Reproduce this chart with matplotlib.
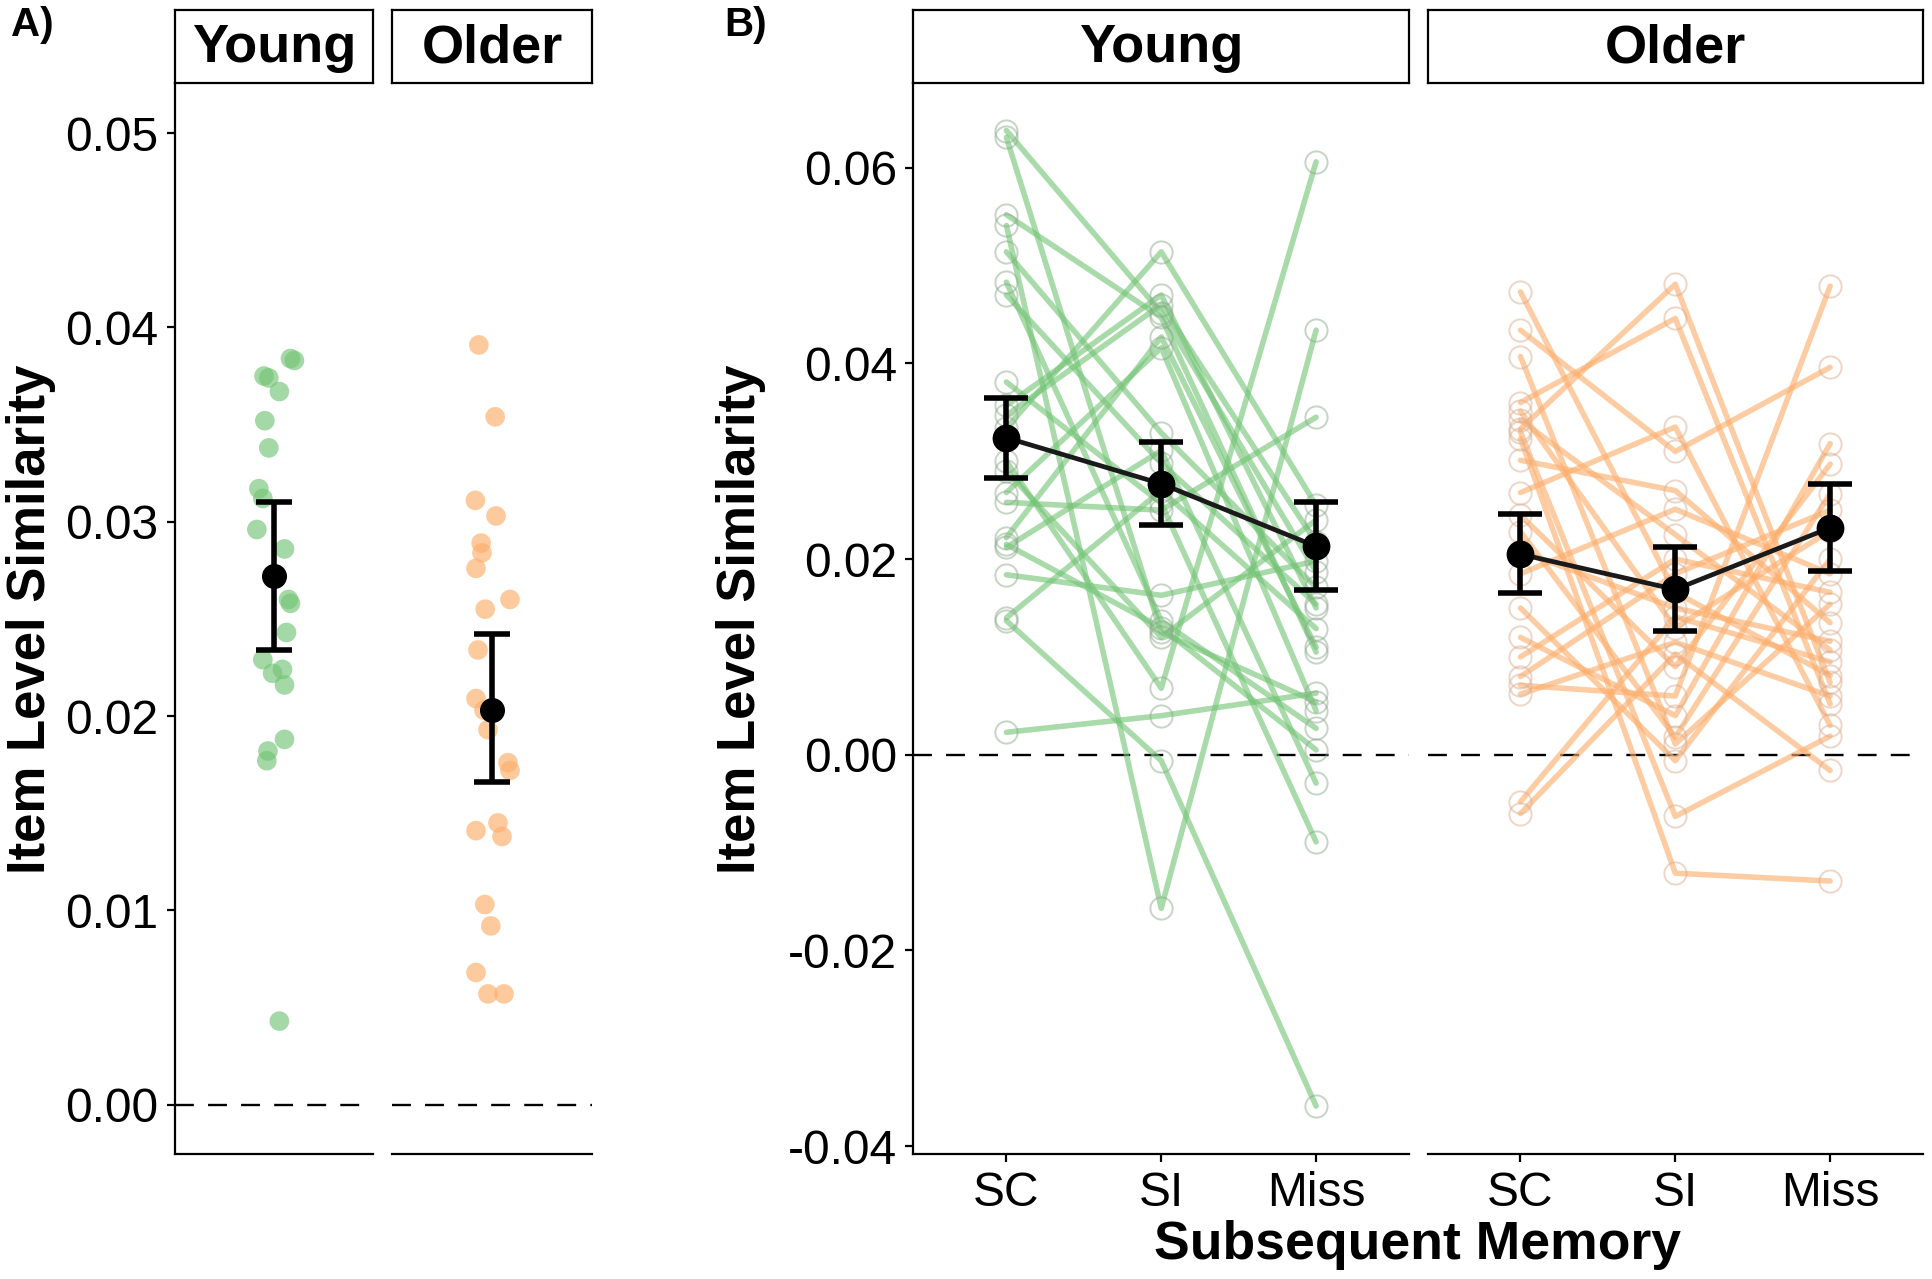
import numpy as np
import matplotlib
matplotlib.use("Agg")
import matplotlib.pyplot as plt
from matplotlib import font_manager

plt.rcParams['font.family'] = ['Liberation Sans', 'DejaVu Sans']

# ------------------------------------------------------------------------------
# Data
# ------------------------------------------------------------------------------
groups = ["Young", "Older"]
memory_labels = ["SC", "SI", "Miss"]

# Panel A: per-subject item level similarity (+ horizontal jitter)
young_A = [0.0384, 0.0383, 0.0375, 0.0374, 0.0367, 0.0352, 0.0338, 0.0317,
           0.0312, 0.0296, 0.0286, 0.0260, 0.0258, 0.0243, 0.0229, 0.0222,
           0.0224, 0.0216, 0.0188, 0.0182, 0.0177, 0.0043]
young_A_jit = [0.098, 0.122, -0.062, -0.033, 0.031, -0.057, -0.033, -0.093,
               -0.069, -0.105, 0.062, 0.086, 0.098, 0.074, -0.069, -0.010,
               0.050, 0.062, 0.062, -0.038, -0.045, 0.031]
older_A = [0.0391, 0.0354, 0.0311, 0.0303, 0.0289, 0.0284, 0.0276, 0.0260,
           0.0255, 0.0234, 0.0209, 0.0203, 0.0193, 0.0176, 0.0172, 0.0141,
           0.0145, 0.0138, 0.0103, 0.0092, 0.0068, 0.0057, 0.0057]
older_A_jit = [-0.079, 0.019, -0.100, 0.024, -0.065, -0.060, -0.096, 0.108,
               -0.041, -0.084, -0.096, -0.048, -0.024, 0.096, 0.108, -0.096,
               0.036, 0.060, -0.043, -0.007, -0.096, -0.024, 0.072]

# summary (mean, lower, upper) for panel A
mean_A = [0.0272, 0.0203]
low_A = [0.0234, 0.0166]
high_A = [0.0310, 0.0242]

# Panel B: per-subject values for SC, SI, Miss
young_sc = [0.0638, 0.0631, 0.0552, 0.0541, 0.0514, 0.0483, 0.0470, 0.0381,
            0.0357, 0.0347, 0.0334, 0.0300, 0.0268, 0.0258, 0.0222, 0.0212,
            0.0184, 0.0140, 0.0137, 0.0023, 0.0290, 0.0215]
young_si = [0.0452, 0.0125, 0.0447, -0.0157, 0.0329, 0.0137, 0.0298, 0.0257,
            0.0470, 0.0460, 0.0514, 0.0068, 0.0416, 0.0250, 0.0427, 0.0311,
            0.0163, 0.0270, -0.0006, 0.0040, 0.0120, 0.0130]
young_miss = [0.0187, 0.0054, 0.0105, 0.0434, 0.0171, 0.0027, 0.0154, -0.0089,
              0.0150, 0.0217, 0.0255, 0.0606, 0.0045, 0.0345, 0.0110, -0.0029,
              0.0198, 0.0129, -0.0359, 0.0063, 0.0240, 0.0005]

older_sc = [0.0473, 0.0434, 0.0407, 0.0360, 0.0351, 0.0342, 0.0333, 0.0323,
            0.0301, 0.0268, 0.0245, 0.0228, 0.0208, 0.0185, 0.0150, 0.0120,
            0.0100, 0.0080, 0.0071, 0.0062, 0.0330, -0.0048, -0.0060]
older_si = [0.0166, 0.0310, 0.0011, 0.0446, 0.0130, 0.0225, 0.0481, -0.0121,
            0.0270, 0.0335, 0.0090, 0.0018, 0.0150, 0.0251, -0.0006, 0.0040,
            0.0200, 0.0185, 0.0060, 0.0115, -0.0063, 0.0141, 0.0103]
older_miss = [0.0081, 0.0396, 0.0154, 0.0052, 0.0229, 0.0107, 0.0074, -0.0129,
              0.0135, 0.0030, 0.0297, 0.0267, 0.0116, 0.0185, 0.0200, 0.0318,
              0.0166, 0.0250, 0.0479, 0.0060, 0.0019, 0.0095, -0.0016]

# summary (mean, lower, upper) for panel B
young_mean_B = [0.0324, 0.0277, 0.0213]
young_low_B = [0.0283, 0.0235, 0.0168]
young_high_B = [0.0365, 0.0320, 0.0258]
older_mean_B = [0.0205, 0.0169, 0.0232]
older_low_B = [0.0165, 0.0127, 0.0188]
older_high_B = [0.0246, 0.0212, 0.0277]

GREEN = "#74c476"
ORANGE = "#fdae6b"
colors = [GREEN, ORANGE]

# ------------------------------------------------------------------------------
# Layout (pixel boxes measured from the reference)
# ------------------------------------------------------------------------------
W, H = 1933, 1279
fig = plt.figure(figsize=(W / 100, H / 100), dpi=100)

panel_top, panel_bot = 82.6, 1154
strip_top = 10


def px_axes(x0, x1, y0, y1):
    return fig.add_axes([x0 / W, 1 - y1 / H, (x1 - x0) / W, (y1 - y0) / H])


def add_strip(x0, x1, label):
    s = px_axes(x0, x1, strip_top, panel_top)
    s.set_xticks([])
    s.set_yticks([])
    for sp in s.spines.values():
        sp.set_linewidth(1.6)
        sp.set_color("black")
    s.text(0.5, 0.47, label, ha="center", va="center", fontsize=39,
           fontweight="bold", transform=s.transAxes)


def style_panel(ax, left_spine):
    ax.spines["top"].set_visible(False)
    ax.spines["right"].set_visible(False)
    ax.spines["bottom"].set_linewidth(1.6)
    ax.spines["left"].set_linewidth(1.6)
    if not left_spine:
        ax.spines["left"].set_visible(False)
        ax.tick_params(axis="y", left=False, labelleft=False)
    ax.tick_params(axis="both", labelsize=34.5, width=1.6, length=6, pad=6,
                   colors="black")
    ax.axhline(0, color="black", lw=1.7, dashes=(8, 6), zorder=1)


# ------------------------------------------------------------------------------
# Panel A
# ------------------------------------------------------------------------------
A_x = [(175, 373.5), (392, 592)]
A_vals = [young_A, older_A]
A_jit = [young_A_jit, older_A_jit]
for i, g in enumerate(groups):
    ax = px_axes(A_x[i][0], A_x[i][1], panel_top, panel_bot)
    style_panel(ax, left_spine=(i == 0))
    x = 1 + np.array(A_jit[i])
    ax.scatter(x, A_vals[i], s=200, color=colors[i], alpha=0.65,
               edgecolors="none", zorder=2)
    ax.errorbar([1], [mean_A[i]],
                yerr=[[mean_A[i] - low_A[i]], [high_A[i] - mean_A[i]]],
                fmt="o", color="black", ms=17, elinewidth=4, capsize=13,
                capthick=4, zorder=4)
    ax.set_xlim(0.4, 1.6)
    ax.set_ylim(-0.00254, 0.0526)
    ax.set_xticks([])
    ax.set_yticks([0.0, 0.01, 0.02, 0.03, 0.04, 0.05])
    ax.set_yticklabels(["0.00", "0.01", "0.02", "0.03", "0.04", "0.05"])
    add_strip(A_x[i][0], A_x[i][1], g)

# ------------------------------------------------------------------------------
# Panel B
# ------------------------------------------------------------------------------
B_x = [(913.5, 1409), (1427.6, 1923)]
B_sc = [young_sc, older_sc]
B_si = [young_si, older_si]
B_miss = [young_miss, older_miss]
B_mean = [young_mean_B, older_mean_B]
B_low = [young_low_B, older_low_B]
B_high = [young_high_B, older_high_B]
xpos = np.arange(1, len(memory_labels) + 1)
for i, g in enumerate(groups):
    ax = px_axes(B_x[i][0], B_x[i][1], panel_top, panel_bot)
    style_panel(ax, left_spine=(i == 0))
    for sc, si, ms in zip(B_sc[i], B_si[i], B_miss[i]):
        ax.plot(xpos, [sc, si, ms], color=colors[i], lw=4, alpha=0.62,
                solid_capstyle="round", zorder=2)
        ax.plot(xpos, [sc, si, ms], ls="none", marker="o", ms=16,
                mfc="none", mec="#8caa8c" if i == 0 else "#dcae90",
                mew=1.4, alpha=0.5, zorder=3)
    m = np.array(B_mean[i])
    ax.plot(xpos, m, color="#1a1a1a", lw=3.4, zorder=4)
    ax.errorbar(xpos, m,
                yerr=[m - np.array(B_low[i]), np.array(B_high[i]) - m],
                fmt="o", color="black", ms=19, elinewidth=4, capsize=16,
                capthick=4, zorder=5)
    ax.set_xlim(0.4, 3.6)
    ax.set_ylim(-0.0408, 0.0687)
    ax.set_xticks(xpos)
    ax.set_xticklabels(memory_labels)
    ax.set_yticks([-0.04, -0.02, 0.0, 0.02, 0.04, 0.06])
    ax.set_yticklabels(["-0.04", "-0.02", "0.00", "0.02", "0.04", "0.06"])
    add_strip(B_x[i][0], B_x[i][1], g)

# ------------------------------------------------------------------------------
# Labels
# ------------------------------------------------------------------------------
installed = {f.name for f in font_manager.fontManager.ttflist}
if "Liberation Sans Narrow" in installed:
    ylab_family, ylab_size = ["Liberation Sans Narrow", "DejaVu Sans"], 31
else:
    ylab_family, ylab_size = ["Liberation Sans", "DejaVu Sans"], 38

fig.text(31 / W, 1 - 619 / H, "Item Level Similarity", rotation=90,
         ha="center", va="center", fontsize=ylab_size, fontweight="bold",
         family=ylab_family)
fig.text(741 / W, 1 - 619 / H, "Item Level Similarity", rotation=90,
         ha="center", va="center", fontsize=ylab_size, fontweight="bold",
         family=ylab_family)
fig.text(1418 / W, 1 - 1245 / H, "Subsequent Memory", ha="center",
         va="center", fontsize=38.5, fontweight="bold")
fig.text(11 / W, 1 - 25 / H, "A)", ha="left", va="center", fontsize=29,
         fontweight="bold")
fig.text(724 / W, 1 - 25 / H, "B)", ha="left", va="center", fontsize=29,
         fontweight="bold")

fig.savefig("out.png", dpi=100)
